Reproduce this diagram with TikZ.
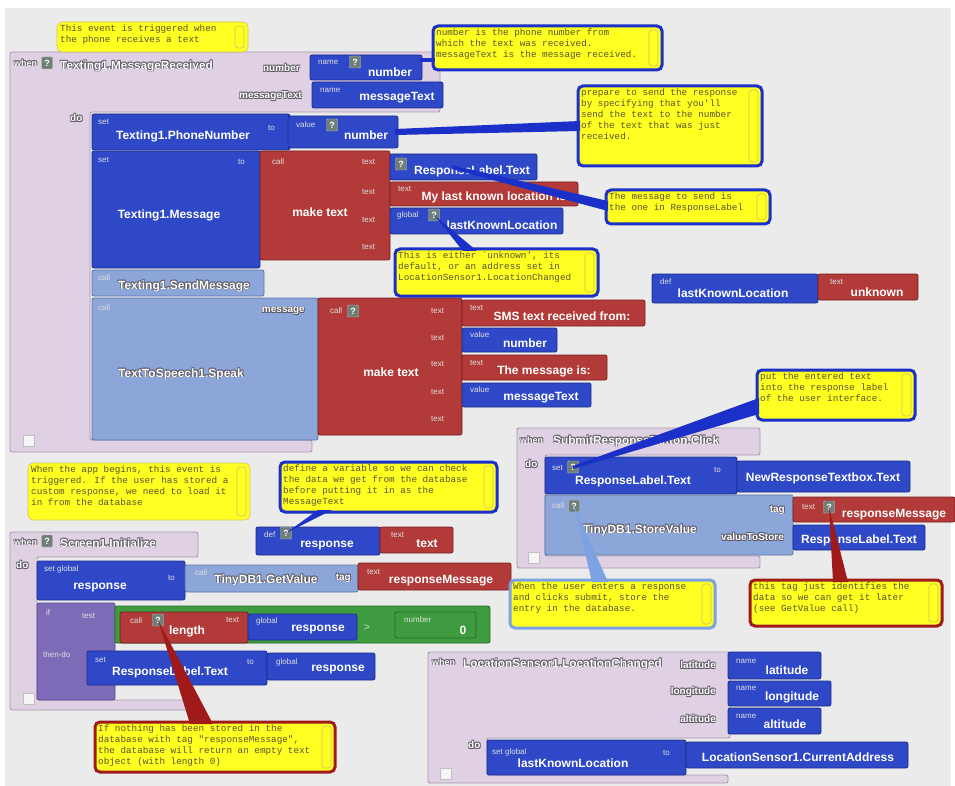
\documentclass[tikz,border=0pt]{standalone}
\usepackage{fontspec}
\setmainfont{Liberation Sans}
\newfontfamily\monof{Liberation Mono}
\usetikzlibrary{calc}
\definecolor{bgc}{HTML}{EBEBEB}
\definecolor{lil}{HTML}{DFD0E3}
\definecolor{lilb}{HTML}{A898AC}
\definecolor{bb}{HTML}{2E48C8}
\definecolor{bbd}{HTML}{1C2C8C}
\definecolor{rb}{HTML}{B23B3A}
\definecolor{rbd}{HTML}{7A2020}
\definecolor{lb}{HTML}{8CA6DA}
\definecolor{lbd}{HTML}{5A74A8}
\definecolor{pb}{HTML}{7E6BB8}
\definecolor{pbd}{HTML}{54468A}
\definecolor{gb}{HTML}{3F9B3F}
\definecolor{gbd}{HTML}{246B24}
\definecolor{yel}{HTML}{FFFF22}
\definecolor{cbl}{HTML}{1A30C8}
\definecolor{crd}{HTML}{A01A1A}
\definecolor{clb}{HTML}{7CA2E4}
\definecolor{ctx}{HTML}{5A5428}
\definecolor{qic}{HTML}{6F7F78}
\definecolor{sbc}{HTML}{D0C860}
\definecolor{embs}{HTML}{5A5660}
\newcommand\fbig{\fontsize{12}{13}\bfseries\selectfont}
\newcommand\fhd{\fontsize{11.8}{13}\bfseries\selectfont}
\newcommand\fsm{\fontsize{10}{10}\bfseries\selectfont}
\newcommand\fwh{\fontsize{9}{9}\bfseries\selectfont}
\newcommand\mkblk[6]{\node[#1,anchor=north west,minimum width={#5pt-#3pt},minimum height={#6pt-#4pt}] (#2) at (#3,#4) {};}
\newcommand\mkemb[6]{\foreach \dx/\dy/\nn in {0.7/0.7/a,-0.6/-0.6/b,0.7/-0.6/c,-0.6/0.7/d}{\node[shd,#1,font=#6] (#2\nn) at (#3+\dx,#4+\dy) {#5};}\node[embf,#1,font=#6] (#2) at (#3,#4) {#5};}
\newcommand\mkcmt[8]{\node[cbox,draw=#1,line width=#8,anchor=north west,minimum width={#5pt-#3pt},minimum height={#6pt-#4pt}] (#2) at (#3,#4) {};
\node[ct] (#2t) at (#3+3,#4+3) {#7};
\draw[sbar] ($(#2.north east)+(-13,4)$) rectangle ($(#2.south east)+(-4,-4)$);}
\begin{document}
\begin{tikzpicture}[x=1pt,y=-1pt,
  blk/.style={inner sep=0,outer sep=0,line width=0.8pt,rounded corners=2pt},
  bblk/.style={blk,fill=bb,draw=bbd},
  rblk/.style={blk,fill=rb,draw=rbd},
  lblk/.style={blk,fill=lb,draw=lbd},
  pblk/.style={blk,fill=pb,draw=pbd},
  gblk/.style={blk,fill=gb,draw=gbd},
  sl/.style={inner sep=0,anchor=west,font=\fontsize{8}{8}\selectfont,text=white!75!gray},
  ml/.style={inner sep=0,font=\fbig,text=white},
  shd/.style={inner sep=0,text=embs},
  embf/.style={inner sep=0,text=white},
  qi/.style={fill=qic,draw=white!50!qic,inner sep=0,minimum width=11pt,minimum height=12pt,font=\fontsize{9}{9}\bfseries\selectfont,text=white,rounded corners=1pt},
  cbox/.style={fill=yel,rounded corners=5pt,inner sep=0,outer sep=0},
  ct/.style={inner sep=0,anchor=north west,align=left,font=\monof\fontsize{9.3}{10.8}\selectfont,text=ctx},
  sbar/.style={draw=sbc,line width=0.7pt,rounded corners=3pt},
  lilsty/.style={fill=lil,draw=lilb,line width=0.9pt,rounded corners=2pt},
  coll/.style={fill=white!92!gray,draw=gray!50,inner sep=0,minimum size=11pt,anchor=north west}]
\useasboundingbox (0,0) rectangle (955,786);
\fill[white] (0,0) rectangle (955,786);
\fill[bgc] (5,8) rectangle (951,786);
% event areas
\filldraw[lilsty] (10,52) -- (440,52) -- (440,112) -- (90,112) -- (90,440) -- (312,440) -- (312,452) -- (10,452) -- cycle;
\filldraw[lilsty] (517,428) -- (760,428) -- (760,455) -- (545,455) -- (545,556) -- (760,556) -- (760,568) -- (517,568) -- cycle;
\filldraw[lilsty] (10,532) -- (198,532) -- (198,557) -- (37,557) -- (37,700) -- (190,700) -- (190,710) -- (10,710) -- cycle;
\filldraw[lilsty] (428,652) -- (730,652) -- (730,738) -- (487,738) -- (487,775) -- (728,775) -- (728,783) -- (428,783) -- cycle;
% ===== Texting1.MessageReceived
\mkemb{anchor=west}{w1}{14}{63}{when}{\fwh}
\node[qi] (q1) at (47,63) {?};
\mkemb{anchor=west}{h1}{60}{66}{Texting1.MessageReceived}{\fhd}
\mkemb{anchor=east}{pn1}{300}{68}{number}{\fsm}
\mkemb{anchor=east}{pm1}{302}{96}{messageText}{\fsm}
\mkblk{bblk}{nm1}{310}{55}{422}{80}
\node[sl] (nm1a) at (318,62) {name};
\node[qi] (nm1q) at (355,62) {?};
\node[ml] (nm1b) at (390,72) {number};
\mkblk{bblk}{nm2}{312}{82}{443}{108}
\node[sl] (nm2a) at (320,90) {name};
\node[ml] (nm2b) at (397,98) {messageText};
\mkemb{anchor=west}{do1}{70}{118}{do}{\fsm}
\mkblk{bblk}{s1}{92}{114}{290}{150}
\node[sl] (s1a) at (98,122) {set};
\node[ml] (s1b) at (183,136) {Texting1.PhoneNumber};
\node[sl] (s1c) at (268,128) {to};
\mkblk{bblk}{v1}{288}{116}{398}{148}
\node[sl] (v1a) at (296,125) {value};
\node[qi] (v1q) at (332,125) {?};
\node[ml] (v1b) at (366,135) {number};
\mkblk{bblk}{s2}{92}{151}{260}{268}
\node[sl] (s2a) at (98,160) {set};
\node[sl] (s2c) at (238,162) {to};
\node[ml] (s2b) at (169,215) {Texting1.Message};
\mkblk{rblk}{m1}{260}{151}{390}{260}
\node[sl] (m1a) at (272,162) {call};
\node[ml] (m1b) at (320,212) {make text};
\node[sl] (m1t1) at (362,162) {text};
\node[sl] (m1t2) at (362,192) {text};
\node[sl] (m1t3) at (362,220) {text};
\node[sl] (m1t4) at (362,247) {text};
\mkblk{bblk}{r1}{390}{154}{537}{180}
\node[qi] (r1q) at (401,164) {?};
\node[ml] (r1b) at (472,171) {ResponseLabel.Text};
\mkblk{rblk}{t1}{390}{182}{578}{206}
\node[sl] (t1a) at (398,189) {text};
\node[ml] (t1b) at (496,197) {My last known location is:};
\mkblk{bblk}{g1}{390}{208}{563}{234}
\node[sl] (g1a) at (397,215) {global};
\node[qi] (g1q) at (434,215) {?};
\node[ml] (g1b) at (502,225) {lastKnownLocation};
\mkblk{lblk}{sm}{92}{270}{264}{296}
\node[sl] (sma) at (98,278) {call};
\mkemb{}{smb}{184}{286}{Texting1.SendMessage}{\fbig}
\mkblk{lblk}{sp}{92}{298}{318}{440}
\node[sl] (spa) at (98,308) {call};
\mkemb{anchor=east}{spm}{305}{311}{message}{\fsm}
\mkemb{}{spb}{181}{374}{TextToSpeech1.Speak}{\fbig}
\mkblk{rblk}{m2}{318}{298}{462}{435}
\node[sl] (m2a) at (330,311) {call};
\node[qi] (m2q) at (353,311) {?};
\node[ml] (m2b) at (391,372) {make text};
\node[sl] (m2t1) at (431,311) {text};
\node[sl] (m2t2) at (431,338) {text};
\node[sl] (m2t3) at (431,364) {text};
\node[sl] (m2t4) at (431,392) {text};
\node[sl] (m2t5) at (431,419) {text};
\mkblk{rblk}{t2}{462}{300}{645}{326}
\node[sl] (t2a) at (470,308) {text};
\node[ml] (t2b) at (562,316) {SMS text received from:};
\mkblk{bblk}{v2}{462}{328}{557}{352}
\node[sl] (v2a) at (470,335) {value};
\node[ml] (v2b) at (525,343) {number};
\mkblk{rblk}{t3}{462}{355}{607}{380}
\node[sl] (t3a) at (470,363) {text};
\node[ml] (t3b) at (544,371) {The message is:};
\mkblk{bblk}{v3}{462}{383}{591}{407}
\node[sl] (v3a) at (470,390) {value};
\node[ml] (v3b) at (541,398) {messageText};
% ===== def lastKnownLocation
\mkblk{bblk}{d1}{652}{274}{818}{303}
\node[sl] (d1a) at (660,282) {def};
\node[ml] (d1b) at (733,293) {lastKnownLocation};
\mkblk{rblk}{u1}{818}{274}{918}{300}
\node[sl] (u1a) at (830,282) {text};
\node[ml] (u1b) at (877,292) {unknown};
% ===== SubmitResponseButton.Click
\mkemb{anchor=west}{w2}{520}{440}{when}{\fwh}
\mkemb{anchor=west}{h2}{553}{441}{SubmitResponseButton.Click}{\fhd}
\mkemb{anchor=west}{do2}{525}{464}{do}{\fsm}
\mkblk{bblk}{s3}{545}{457}{737}{494}
\node[sl] (s3a) at (552,468) {set};
\node[qi] (s3q) at (573,467) {?};
\node[ml] (s3b) at (633,481) {ResponseLabel.Text};
\node[sl] (s3c) at (714,470) {to};
\mkblk{bblk}{nr}{737}{461}{910}{492}
\node[ml] (nrb) at (823,478) {NewResponseTextbox.Text};
\mkblk{lblk}{sv}{545}{495}{793}{555}
\node[sl] (sva) at (552,506) {call};
\node[qi] (svq) at (574,506) {?};
\mkemb{}{svb}{640}{530}{TinyDB1.StoreValue}{\fbig}
\mkemb{anchor=east}{svt}{785}{510}{tag}{\fsm}
\mkemb{anchor=east}{svv}{784}{537}{valueToStore}{\fsm}
\mkblk{rblk}{t4}{793}{497}{955}{522}
\node[sl] (t4a) at (802,507) {text};
\node[qi] (t4q) at (829,507) {?};
\node[ml] (t4b) at (894,515) {responseMessage};
\mkblk{bblk}{r2}{793}{525}{925}{550}
\node[ml] (r2b) at (859,540) {ResponseLabel.Text};
% ===== Screen1.Initialize
\mkemb{anchor=west}{w3}{14}{542}{when}{\fwh}
\node[qi] (q3) at (47,541) {?};
\mkemb{anchor=west}{h3}{60}{543}{Screen1.Initialize}{\fhd}
\mkemb{anchor=west}{do3}{16}{565}{do}{\fsm}
\mkblk{bblk}{s4}{37}{561}{185}{600}
\node[sl] (s4a) at (44,569) {set global};
\node[ml] (s4b) at (100,588) {response};
\node[sl] (s4c) at (168,578) {to};
\mkblk{lblk}{gv}{185}{565}{358}{592}
\node[sl] (gva) at (195,573) {call};
\mkemb{}{gvb}{266}{580}{TinyDB1.GetValue}{\fbig}
\mkemb{anchor=east}{gvt}{351}{578}{tag}{\fsm}
\mkblk{rblk}{t5}{358}{563}{511}{590}
\node[sl] (t5a) at (367,572) {text};
\node[ml] (t5b) at (441,581) {responseMessage};
\mkblk{pblk}{if1}{37}{603}{115}{700}
\node[sl] (if1a) at (46,613) {if};
\node[sl] (if1b) at (82,616) {test};
\node[sl] (if1c) at (43,655) {then-do};
\mkblk{gblk}{cmp}{115}{606}{490}{643}
\mkblk{rblk}{len}{120}{612}{248}{643}
\node[sl] (lena) at (130,621) {call};
\node[qi] (lenq) at (158,620) {?};
\node[ml] (lenb) at (187,631) {length};
\node[sl] (lenc) at (226,620) {text};
\mkblk{bblk}{g2}{248}{614}{357}{640}
\node[sl] (g2a) at (256,621) {global};
\node[ml] (g2b) at (318,630) {response};
\node[sl,font=\fontsize{10}{10}\selectfont] (gt) at (364,628) {>};
\mkblk{gblk}{n0}{395}{612}{476}{638}
\node[sl] (n0a) at (404,620) {number};
\node[ml] (n0b) at (463,630) {0};
\mkblk{bblk}{s5}{87}{651}{267}{685}
\node[sl] (s5a) at (95,660) {set};
\node[ml] (s5b) at (170,672) {ResponseLabel.Text};
\node[sl] (s5c) at (247,662) {to};
\mkblk{bblk}{g3}{267}{653}{375}{680}
\node[sl] (g3a) at (276,662) {global};
\node[ml] (g3b) at (338,670) {response};
% ===== LocationSensor1.LocationChanged
\mkemb{anchor=west}{w4}{432}{662}{when}{\fwh}
\mkemb{anchor=west}{h4}{463}{664}{LocationSensor1.LocationChanged}{\fhd}
\mkemb{anchor=east}{pla}{716}{665}{latitude}{\fsm}
\mkemb{anchor=east}{plo}{716}{692}{longitude}{\fsm}
\mkemb{anchor=east}{pal}{716}{719}{altitude}{\fsm}
\mkblk{bblk}{la}{728}{652}{821}{679}
\node[sl] (laa) at (736,661) {name};
\node[ml] (lab) at (787,670) {latitude};
\mkblk{bblk}{lo}{728}{681}{831}{706}
\node[sl] (loa) at (736,688) {name};
\node[ml] (lob) at (792,697) {longitude};
\mkblk{bblk}{al}{728}{708}{821}{734}
\node[sl] (ala) at (736,716) {name};
\node[ml] (alb) at (785,724) {altitude};
\mkemb{anchor=west}{do4}{468}{745}{do}{\fsm}
\mkblk{bblk}{s6}{487}{740}{686}{775}
\node[sl] (s6a) at (492,752) {set global};
\node[ml] (s6b) at (573,763) {lastKnownLocation};
\node[sl] (s6c) at (663,753) {to};
\mkblk{bblk}{ca}{686}{742}{908}{768}
\node[ml] (cab) at (798,757) {LocationSensor1.CurrentAddress};
% collapse boxes
\node[coll] (k1) at (23,435) {};
\node[coll] (k2) at (23,693) {};
\node[coll] (k3) at (528,552) {};
\node[coll] (k4) at (440,768) {};
% ===== comments
\mkcmt{sbc}{c1}{57}{22}{248}{52}{This event is triggered when\\the phone receives a text}{0.6pt}
\mkcmt{cbl}{c2}{433}{26}{662}{70}{number is the phone number from\\which the text was received.\\messageText is the message received.}{3pt}
\mkcmt{cbl}{c3}{578}{86}{762}{166}{prepare to send the response\\by specifying that you'll\\send the text to the number\\of the text that was just\\received.}{3pt}
\mkcmt{cbl}{c4}{606}{190}{770}{224}{The message to send is\\the one in ResponseLabel}{3pt}
\mkcmt{cbl}{c5}{395}{249}{598}{296}{This is either `unknown', its\\default, or an address set in\\LocationSensor1.LocationChanged}{3pt}
\mkcmt{cbl}{c6}{757}{370}{915}{420}{put the entered text\\into the response label\\of the user interface.}{3pt}
\mkcmt{sbc}{c9}{28}{463}{250}{520}{When the app begins, this event is\\triggered. If the user has stored a\\custom response, we need to load it\\in from the database}{0.6pt}
\mkcmt{cbl}{c10}{280}{462}{497}{512}{define a variable so we can check\\the data we get from the database\\before putting it in as the\\MessageText}{3pt}
\mkcmt{clb}{c7}{510}{580}{715}{628}{When the user enters a response\\and clicks submit, store the\\entry in the database.}{3pt}
\mkcmt{crd}{c8}{750}{580}{942}{626}{this tag just identifies the\\data so we can get it later\\(see GetValue call)}{3pt}
\mkcmt{crd}{c11}{95}{722}{335}{772}{If nothing has been stored in the\\database with tag "responseMessage",\\the database will return an empty text\\object (with length 0)}{3pt}
% def response
\mkblk{bblk}{dr}{256}{527}{380}{555}
\node[sl] (dra) at (264,535) {def};
\node[qi] (drq) at (286,533) {?};
\node[ml] (drb) at (327,546) {response};
\mkblk{rblk}{tx}{380}{527}{453}{553}
\node[sl] (txa) at (391,535) {text};
\node[ml] (txb) at (427,544) {text};
% ===== pointers
\fill[cbl] ($(nm1.north east)+(-2,3)$) rectangle ($(c2.south west)+(2,-8)$);
\fill[cbl] ($(v1.east)+(-3,-3)$) -- ($(c3.west)+(2,-5)$) -- ($(c3.west)+(2,5)$) -- ($(v1.east)+(-3,3)$) -- cycle;
\fill[cbl] ($(r1.center)+(-12,-2)$) -- ($(c4.west)+(2,-6)$) -- ($(c4.west)+(2,4)$) -- ($(r1.center)+(-12,2)$) -- cycle;
\fill[cbl] (g1q.center) -- ($(c5.north west)+(68,2)$) -- ($(c5.north west)+(82,2)$) -- cycle;
\fill[cbl] ($(s3q.center)+(0,-1)$) -- ($(c6.south west)+(2,-22)$) -- ($(c6.south west)+(2,-6)$) -- ($(s3q.center)+(0,2)$) -- cycle;
\fill[clb] (svq.center) -- ($(c7.north west)+(82,2)$) -- ($(c7.north west)+(98,2)$) -- cycle;
\fill[crd] (t4q.center) -- ($(c8.north west)+(83,2)$) -- ($(c8.north west)+(98,2)$) -- cycle;
\fill[cbl] (drq.center) -- ($(c10.south west)+(38,-2)$) -- ($(c10.south west)+(52,-2)$) -- cycle;
\fill[crd] (lenq.center) -- ($(c11.north west)+(95,2)$) -- ($(c11.north west)+(118,2)$) -- cycle;
\end{tikzpicture}
\end{document}
